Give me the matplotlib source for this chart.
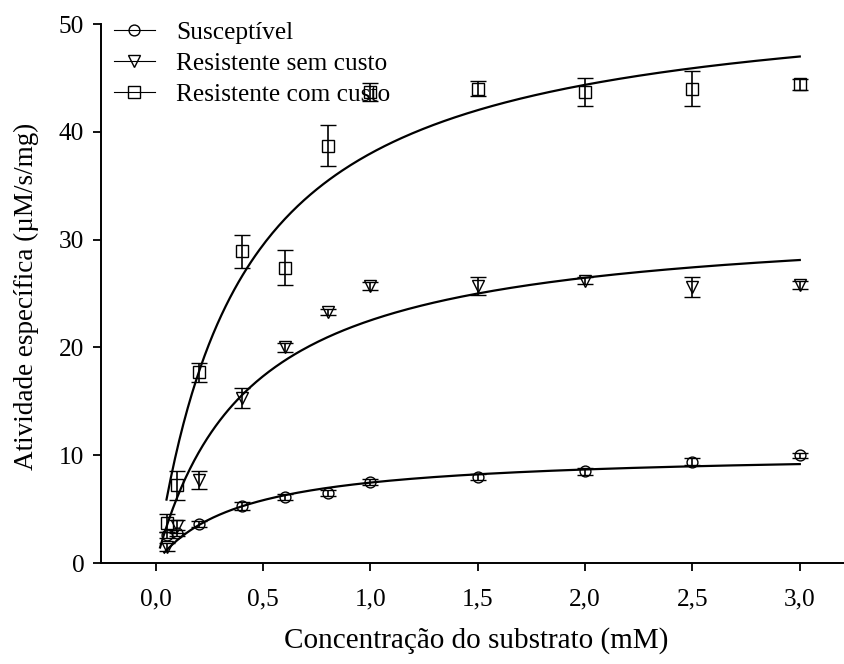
import numpy as np
import matplotlib.pyplot as plt
from matplotlib.lines import Line2D

plt.rcParams['font.family'] = ['Liberation Serif', 'DejaVu Serif']

# substrate concentrations (mM)
conc = [0.05, 0.1, 0.2, 0.4, 0.6, 0.8, 1.0, 1.5, 2.0, 2.5, 3.0]

# specific activity (uM/s/mg) with error
susc = [2.6, 2.8, 3.6, 5.3, 6.1, 6.5, 7.5, 8.0, 8.5, 9.4, 10.0]
susc_err = [0.3, 0.3, 0.3, 0.35, 0.3, 0.3, 0.25, 0.3, 0.3, 0.3, 0.25]

sem_custo = [1.5, 3.4, 7.7, 15.3, 20.0, 23.3, 25.7, 25.7, 26.2, 25.6, 25.8]
sem_err = [0.4, 0.6, 0.85, 0.9, 0.45, 0.3, 0.4, 0.8, 0.3, 0.9, 0.4]

com_custo = [3.7, 7.2, 17.7, 28.9, 27.4, 38.7, 43.7, 44.0, 43.7, 44.0, 44.4]
com_err = [0.8, 1.35, 0.9, 1.55, 1.6, 1.9, 0.8, 0.7, 1.3, 1.6, 0.5]

# Michaelis-Menten fit parameters (Vmax, Km) and start of plotted range
fit_susc = (10.37, 0.39, 0.04)
fit_sem = (32.1, 0.426, 0.02)
fit_com = (53.3, 0.403, 0.05)

labels = ['Susceptível', 'Resistente sem custo', 'Resistente com custo']
xticks = [0.0, 0.5, 1.0, 1.5, 2.0, 2.5, 3.0]
xticklabels = ['0,0', '0,5', '1,0', '1,5', '2,0', '2,5', '3,0']
yticks = [0, 10, 20, 30, 40, 50]


def mm(s, vmax, km):
    return vmax * s / (km + s)


fig = plt.figure(figsize=(8.44, 6.64), dpi=100)
ax = fig.add_axes([0.1197, 0.1521, 0.8803, 0.8117])

series = [
    (susc, susc_err, 'o', fit_susc, 7.8),
    (sem_custo, sem_err, 'v', fit_sem, 8.8),
    (com_custo, com_err, 's', fit_com, 8.3),
]

handles = []
for (vals, errs, mk, fit, ms), lab in zip(series, labels):
    vmax, km, s0 = fit
    s = np.linspace(s0, 3.0, 300)
    ax.plot(s, mm(s, vmax, km), color='black', lw=1.6, zorder=2)
    ax.errorbar(conc, vals, yerr=errs, fmt=mk, ms=ms, mfc='none', mec='black',
                mew=1.0, ecolor='black', elinewidth=1.2, capsize=5.8,
                capthick=1.2, zorder=3)
    handles.append(Line2D([], [], color='black', lw=0.8, marker=mk, ms=ms,
                          mfc='none', mec='black', mew=1.0))

ax.set_xlim(-0.255, 3.206)
ax.set_ylim(0, 50)
ax.set_xticks(xticks)
ax.set_xticklabels(xticklabels)
ax.set_yticks(yticks)

for side in ['top', 'right']:
    ax.spines[side].set_visible(False)
for side in ['left', 'bottom']:
    ax.spines[side].set_linewidth(1.4)

ax.tick_params(direction='out', length=6, width=1.3, labelsize=18.3)
ax.tick_params(axis='x', pad=12)
ax.tick_params(axis='y', pad=6)

ax.set_xlabel('Concentração do substrato (mM)', fontsize=21)
ax.set_ylabel('Atividade específica (µM/s/mg)', fontsize=19.5)
ax.xaxis.set_label_coords(0.505, -0.118)
ax.yaxis.set_label_coords(-0.083, 0.495)

ax.legend(handles, labels, loc='upper left', bbox_to_anchor=(0.0175, 1.006),
          frameon=False, fontsize=18.3, handlelength=1.6, handletextpad=0.85,
          labelspacing=0.33, borderpad=0, borderaxespad=0)

fig.savefig('out.png', dpi=100)
